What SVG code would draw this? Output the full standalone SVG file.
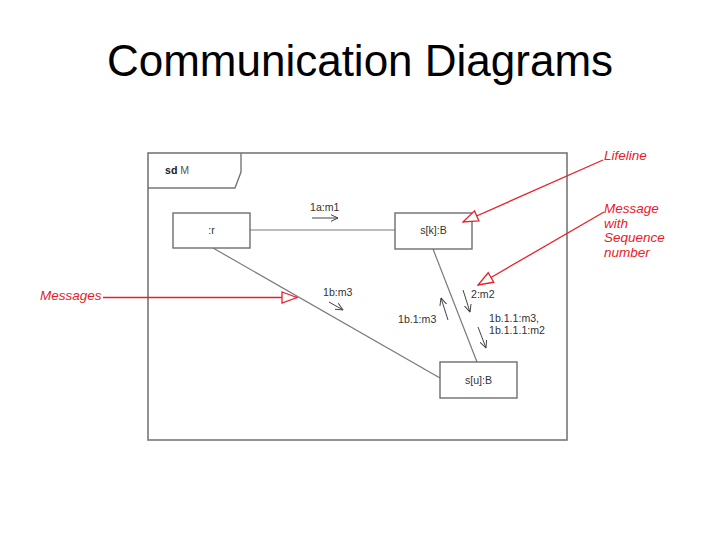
<svg xmlns="http://www.w3.org/2000/svg" width="720" height="540" viewBox="0 0 720 540">
<defs>
<style>
.title{font-family:"Liberation Sans",Arial,sans-serif;font-size:44px;fill:#000}
.lbl{font-family:"Liberation Sans",Arial,sans-serif;font-size:10.6px;fill:#333}
.box{fill:#fff;stroke:#6e6e6e;stroke-width:1.4}
.link{stroke:#7a7a7a;stroke-width:1.2;fill:none}
.msg{stroke:#444;stroke-width:1;fill:none;marker-end:url(#stick)}
.red{stroke:#e8202a;stroke-width:1.3;fill:none;marker-end:url(#hollow)}
.rtxt{font-family:"Liberation Sans",Arial,sans-serif;font-size:13.5px;font-style:italic;fill:#e8202a}
</style>
<marker id="stick" viewBox="0 0 8 8" refX="7.5" refY="4" markerWidth="8" markerHeight="8" markerUnits="userSpaceOnUse" orient="auto">
<path d="M0,0.5 L7.5,4 L0,7.5" fill="none" stroke="#444" stroke-width="1"/>
</marker>
<marker id="hollow" viewBox="0 0 17 13" refX="16" refY="6.5" markerWidth="17" markerHeight="13" markerUnits="userSpaceOnUse" orient="auto">
<path d="M1,1 L16,6.5 L1,12 Z" fill="#fff" stroke="#e8202a" stroke-width="1.3"/>
</marker>
</defs>
<rect width="720" height="540" fill="#fff"/>
<text class="title" x="360" y="76" text-anchor="middle">Communication Diagrams</text>

<g id="frame">
<rect x="148" y="153" width="419" height="287" fill="#fff" stroke="#777" stroke-width="1.6"/>
<path d="M148,188 L235,188 L241,172 L241,153" fill="none" stroke="#777" stroke-width="1.4"/>
<text class="lbl" x="165" y="174" font-size="11.5"><tspan font-weight="bold" fill="#222">sd</tspan><tspan fill="#555"> M</tspan></text>
</g>

<g id="connectors">
<line class="link" x1="250" y1="230" x2="395" y2="230"/>
<line class="link" x1="213" y1="248" x2="440" y2="378"/>
<line class="link" x1="433" y1="249" x2="477" y2="362"/>
<line class="msg" x1="312" y1="218" x2="338" y2="218"/>
<text class="lbl" x="310" y="211">1a:m1</text>
<line class="msg" x1="329" y1="302" x2="343" y2="310"/>
<text class="lbl" x="323" y="296">1b:m3</text>
<line class="msg" x1="448" y1="320" x2="441" y2="298"/>
<text class="lbl" x="398" y="323">1b.1:m3</text>
<line class="msg" x1="463" y1="290" x2="470" y2="312"/>
<text class="lbl" x="471" y="298">2:m2</text>
<line class="msg" x1="478" y1="327" x2="486" y2="348"/>
<text class="lbl" x="489" y="322">1b.1.1:m3,</text>
<text class="lbl" x="489" y="334">1b.1.1.1:m2</text>
</g>

<g id="node-r">
<rect class="box" x="173" y="213" width="77" height="35"/>
<text class="lbl" x="211.5" y="234" text-anchor="middle">:r</text>
</g>
<g id="node-sk">
<rect class="box" x="395" y="213" width="77" height="36"/>
<text class="lbl" x="433.5" y="234" text-anchor="middle">s[k]:B</text>
</g>
<g id="node-su">
<rect class="box" x="440" y="362" width="77" height="36"/>
<text class="lbl" x="478.5" y="384" text-anchor="middle">s[u]:B</text>
</g>

<g id="annotations">
<line class="red" x1="603" y1="160" x2="463" y2="222"/>
<text class="rtxt" x="604" y="160">Lifeline</text>
<line class="red" x1="604" y1="212" x2="478" y2="285"/>
<text class="rtxt" x="604" y="213">Message</text>
<text class="rtxt" x="604" y="227.5">with</text>
<text class="rtxt" x="604" y="242">Sequence</text>
<text class="rtxt" x="604" y="256.5">number</text>
<line class="red" x1="103" y1="297.5" x2="297" y2="297.5"/>
<text class="rtxt" x="40" y="300">Messages</text>
</g>
</svg>
